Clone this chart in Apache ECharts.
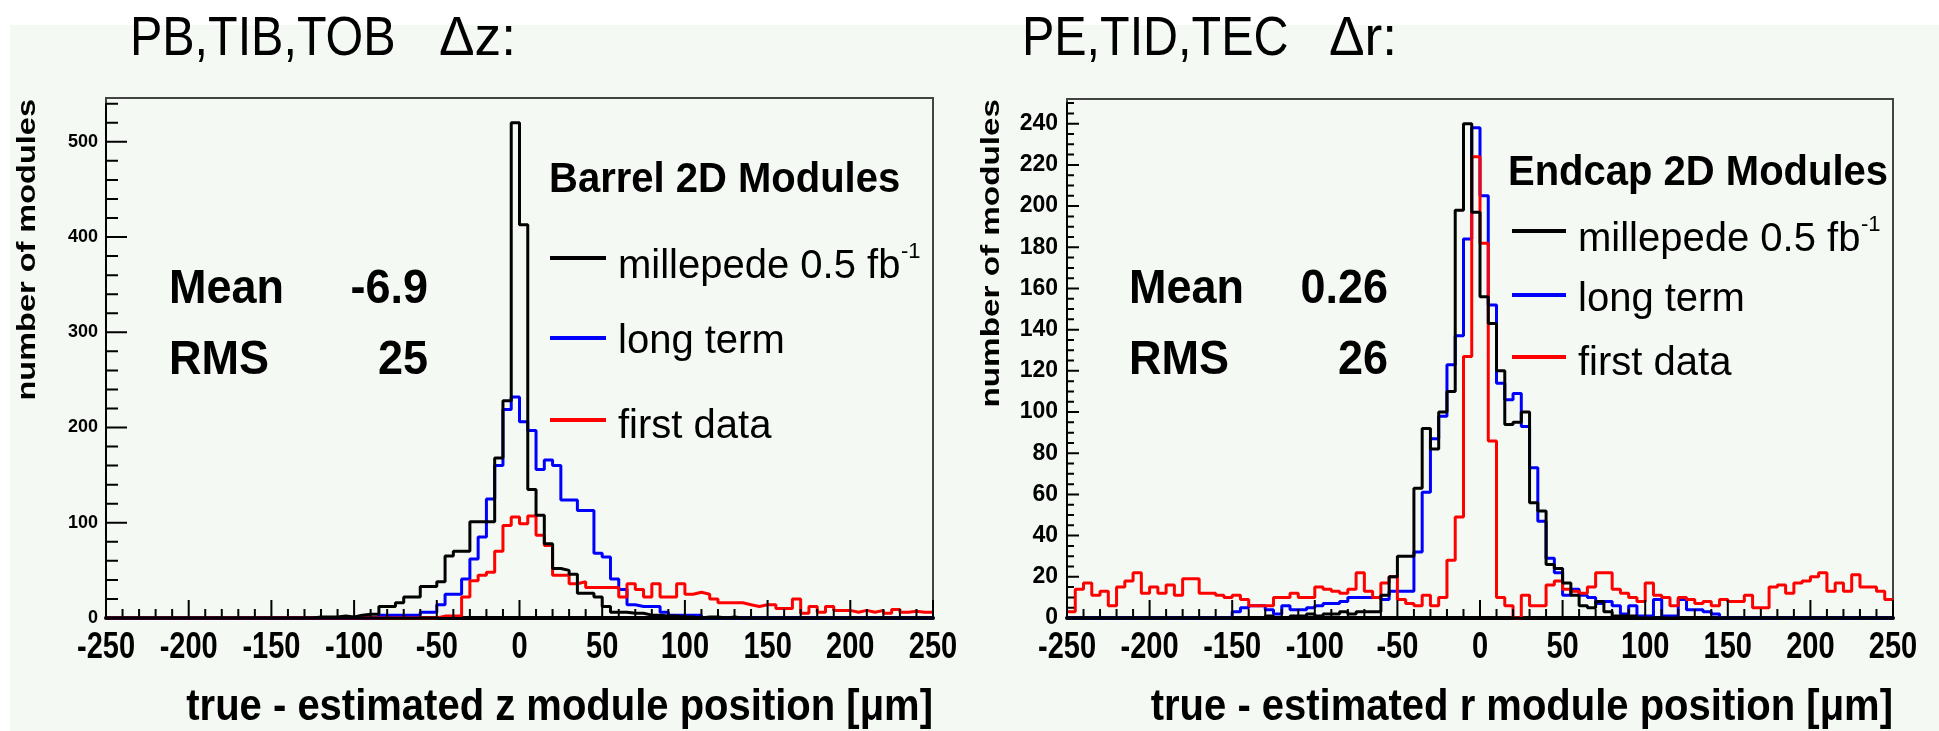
<!DOCTYPE html>
<html><head><meta charset="utf-8">
<script src="https://cdn.jsdelivr.net/npm/echarts@6/dist/echarts.min.js"></script>
<style>html,body{margin:0;padding:0;background:#fff;overflow:hidden}#c{width:1939px;height:731px}#tmp{position:absolute;left:0;top:0;width:1939px;height:731px;visibility:hidden}</style>
</head><body><div id="c"></div><div id="tmp"></div><script>
// ---- histogram binning (5 um bins from -250 to 250) ----
const binLow = -250, binWidth = 5;
const xTickLabels = [-250,-200,-150,-100,-50,0,50,100,150,200,250];

// ---- Barrel (left panel), Delta z ----
const barrelMillepede = [
 0,0,0,0,0,0,0,0,0,0, 0,0,0,0,0,0,0,0,0,0, 0,0,0,0,0,1,1,1,2,1,
 3,4,4,12,12,16,22,22,33,33, 38,65,70,70,101,101,101,168,228,520,
 413,135,108,78,52,50,46,26,26,22, 12,6,6,5,5,3,3,2,2,1,
 1,0,1,1,0,1,0,0,0,0, 0,0,0,0,0,0,0,0,0,0, 0,0,0,0,0,0,0,0,0,0];
const barrelLongTerm = [
 0,0,0,0,0,0,0,0,0,0, 0,0,0,0,0,0,0,0,0,0, 0,0,0,0,0,0,0,0,0,0,
 0,0,0,3,3,3,3,3,6,6, 14,25,25,41,62,85,125,160,219,232,
 206,197,156,166,160,124,124,113,113,68, 64,41,30,14,12,12,12,6,3,3,
 3,3,0,0,0,0,0,0,0,0, 0,0,0,0,0,0,0,0,0,0, 0,0,0,0,0,0,0,0,0,0];
const barrelFirstData = [
 0,0,0,0,0,0,0,0,0,0, 0,0,0,0,0,0,0,0,0,0, 0,0,0,0,0,0,0,0,0,0,
 0,0,0,0,0,0,0,0,0,0, 2,2,2,22,39,45,48,70,97,106,
 99,107,87,76,45,45,36,38,32,32, 32,32,22,36,30,22,36,22,22,36,
 25,27,25,20,16,16,16,14,12,14, 14,10,10,20,5,12,6,12,8,8, 6,8,6,8,5,9,6,7,6,6];

// ---- Endcap (right panel), Delta r ----
const endcapMillepede = [
 0,0,0,0,0,0,0,0,0,0, 0,0,0,0,0,0,0,0,0,0, 0,0,0,0,1,0,0,1,1,2,
 1,2,2,3,2,3,3,3,11,20, 30,30,63,92,82,100,110,198,240,197,
 156,143,120,94,95,100,56,52,26,24, 17,11,6,5,8,3,1,1,1,0,
 0,0,0,0,0,0,0,0,0,0, 0,0,0,0,0,0,0,0,0,0, 0,0,0,0,0,0,0,0,0,0];
const endcapLongTerm = [
 0,0,0,0,0,0,0,0,0,0, 0,0,0,0,0,0,0,0,0,0, 3,5,6,6,4,2,6,4,4,5,
 6,7,7,8,10,10,10,10,9,13, 13,13,32,61,87,98,123,137,184,238,
 205,152,114,106,109,93,73,47,29,22, 11,14,11,10,7,8,6,2,6,1,
 1,9,1,1,9,4,4,3,2,0, 0,0,0,0,0,0,0,0,0,0, 0,0,0,0,0,0,0,0,0,0];
const endcapFirstData = [
 3,14,17,11,13,6,15,18,22,12, 15,12,16,11,19,19,12,12,11,10,
 11,9,6,6,6,10,10,12,10,10, 15,14,13,12,14,22,13,10,17,20,
 9,7,6,11,6,10,28,49,127,224, 182,86,10,6,0,11,6,6,16,18,
 14,13,12,15,22,22,14,12,10,8, 17,11,10,6,10,9,7,8,6,9,
 8,8,11,5,5,15,16,12,17,18, 20,22,13,17,13,21,15,15,13,9];

const seriesNames = ['millepede 0.5 fb', 'long term', 'first data'];
const seriesColors = ['#000000', '#0000ff', '#ff0000'];

const SANS = '"Liberation Sans", Arial, sans-serif';
const yMax = [546, 252];

function toSteps(vals){
  const pts = vals.map((v,i)=>[binLow + i*binWidth, v]);
  pts.push([binLow + vals.length*binWidth, vals[vals.length-1]]);
  return pts;
}
function hist(vals, idx, colorIdx, z){
  return { type:'line', name: seriesNames[colorIdx], xAxisIndex: idx, yAxisIndex: idx, step:'end', symbol:'none',
    data: toSteps(vals), lineStyle:{color: seriesColors[colorIdx], width:3}, itemStyle:{color: seriesColors[colorIdx]},
    z: z, silent:true, animation:false, clip:true };
}
function xAxisCfg(i){
  return { gridIndex:i, type:'value', position:'bottom', min:-250, max:250, interval:50,
    axisLine:{show:true, lineStyle:{color:'#000', width:4}},
    axisTick:{show:false}, minorTick:{show:false},
    splitLine:{show:false}, minorSplitLine:{show:false},
    axisLabel:{show:false} };
}
function yAxisCfg(i, max, interval, fontSize, margin){
  return { gridIndex:i, type:'value', position:'left', min:0, max:max, interval:interval,
    axisLine:{show:true, onZero:false, lineStyle:{color:'#444', width:2}},
    axisTick:{show:false}, minorTick:{show:false},
    splitLine:{show:false}, minorSplitLine:{show:false},
    axisLabel:{fontFamily: SANS, fontWeight:'bold', fontSize: fontSize, color:'#000', margin: margin, showMaxLabel:false} };
}
function range(a, b, step){ const r = []; for (let v = a; v <= b + 1e-9; v += step) r.push(v); return r; }

function txt(x, y, text, font, opts){
  opts = opts || {};
  return { type:'text', x:x, y:y, rotation: opts.rotation || 0, scaleX: opts.scaleX || 1, scaleY: opts.scaleY || 1,
    z: 100, silent:true,
    style:{ text:text, font:font, fill: opts.fill || '#000', textAlign: opts.align || 'left', textVerticalAlign: opts.valign || 'middle' } };
}
function lineEl(x1, x2, y, color){
  return { type:'line', z:100, silent:true, shape:{x1:x1, y1:y, x2:x2, y2:y}, style:{stroke:color, lineWidth:4} };
}

const graphics = [
  { type:'rect', z:-100, silent:true, shape:{x:10, y:25, width:1929, height:706}, style:{fill:'#f4f9f4'} },
  // titles
  txt(130, 40, 'PB,TIB,TOB', '56px ' + SANS, {scaleX:0.865}),
  txt(439, 40, '\u0394z:', '56px ' + SANS, {scaleX:0.95}),
  txt(1022, 40, 'PE,TID,TEC', '56px ' + SANS, {scaleX:0.865}),
  txt(1329, 40, '\u0394r:', '56px ' + SANS, {scaleX:0.95}),
  // y axis names
  txt(28, 99, 'number of modules', 'bold 25px ' + SANS, {rotation: Math.PI/2, align:'right', scaleX:1.3}),
  txt(992, 99, 'number of modules', 'bold 25px ' + SANS, {rotation: Math.PI/2, align:'right', scaleX:1.33}),
  // x axis names
  txt(933, 708, 'true - estimated z module position [\u03bcm]', 'bold 40px ' + SANS, {align:'right', scaleY:1.1}),
  txt(1893, 708, 'true - estimated r module position [\u03bcm]', 'bold 40px ' + SANS, {align:'right', scaleY:1.1}),
  // left panel annotations
  txt(549, 180, 'Barrel 2D Modules', 'bold 40px ' + SANS, {scaleY:1.06}),
  txt(169, 290, 'Mean', 'bold 45px ' + SANS, {scaleY:1.08}),
  txt(428, 290, '-6.9', 'bold 45px ' + SANS, {align:'right', scaleY:1.08}),
  txt(169, 361, 'RMS', 'bold 45px ' + SANS, {scaleY:1.08}),
  txt(428, 361, '25', 'bold 45px ' + SANS, {align:'right', scaleY:1.08}),
  lineEl(550, 606, 258, seriesColors[0]),
  lineEl(550, 606, 338, seriesColors[1]),
  lineEl(550, 606, 420, seriesColors[2]),
  txt(618, 267, seriesNames[0], '40px ' + SANS),
  txt(901, 252, '-1', '22px ' + SANS),
  txt(618, 342, seriesNames[1], '40px ' + SANS),
  txt(618, 427, seriesNames[2], '40px ' + SANS),
  // right panel annotations
  txt(1508, 173, 'Endcap 2D Modules', 'bold 40px ' + SANS, {scaleY:1.06}),
  txt(1129, 290, 'Mean', 'bold 45px ' + SANS, {scaleY:1.08}),
  txt(1388, 290, '0.26', 'bold 45px ' + SANS, {align:'right', scaleY:1.08}),
  txt(1129, 361, 'RMS', 'bold 45px ' + SANS, {scaleY:1.08}),
  txt(1388, 361, '26', 'bold 45px ' + SANS, {align:'right', scaleY:1.08}),
  lineEl(1512, 1566, 231, seriesColors[0]),
  lineEl(1512, 1566, 295, seriesColors[1]),
  lineEl(1512, 1566, 357, seriesColors[2]),
  txt(1578, 240, seriesNames[0], '40px ' + SANS),
  txt(1861, 225, '-1', '22px ' + SANS),
  txt(1578, 300, seriesNames[1], '40px ' + SANS),
  txt(1578, 364, seriesNames[2], '40px ' + SANS)
];

const baseOption = {
  backgroundColor:'#ffffff',
  animation:false,
  grid:[
    {left:106, top:98, width:827, height:520, show:true, borderColor:'#444', borderWidth:2, backgroundColor:'transparent'},
    {left:1067, top:99, width:826, height:519, show:true, borderColor:'#444', borderWidth:2, backgroundColor:'transparent'}
  ],
  xAxis:[ xAxisCfg(0), xAxisCfg(1) ],
  yAxis:[ yAxisCfg(0, yMax[0], 100, 18, 8), yAxisCfg(1, yMax[1], 20, 23, 9) ]
};

// measure the axes' scales on a hidden helper chart
const helper = echarts.init(document.getElementById('tmp'));
helper.setOption(baseOption);
const extra = [];
const tickSeries = [];
const yTickCfg = [ {minor:20, major:100, majorLen:21, minorLen:12}, {minor:5, major:20, majorLen:12, minorLen:7} ];
[0,1].forEach(i => {
  const y0 = Number(helper.convertToPixel({yAxisIndex:i}, 0));
  const yT = Number(helper.convertToPixel({yAxisIndex:i}, yMax[i]));
  const xa = Number(helper.convertToPixel({xAxisIndex:i}, -250));
  const xb = Number(helper.convertToPixel({xAxisIndex:i}, 250));
  const pxPerX = (xb - xa) / 500, pxPerY = (y0 - yT) / yMax[i];
  const c = yTickCfg[i];
  // comb polyline along the bottom axis: up and back down at every tick
  const xComb = [];
  range(-250, 250, 10).forEach(v => {
    const L = (Math.abs(v % 50) < 1e-6 ? 18 : 9) / pxPerY;
    xComb.push([v, 0], [v, L], [v, 0]);
  });
  // comb polyline along the left axis
  const yComb = [];
  range(0, yMax[i], c.minor).forEach(v => {
    const L = (Math.abs(v % c.major) < 1e-6 ? c.majorLen : c.minorLen) / pxPerX;
    yComb.push([-250, v], [-250 + L, v], [-250, v]);
  });
  [xComb, yComb].forEach(comb => tickSeries.push({
    type:'line', xAxisIndex:i, yAxisIndex:i, symbol:'none', silent:true, animation:false, z:6, clip:false,
    lineStyle:{color:'#000', width:2}, data: comb }));
  xTickLabels.forEach(v => {
    const px = Number(helper.convertToPixel({xAxisIndex:i}, v));
    extra.push(txt(px, y0 + 30, String(v), 'bold 29px ' + SANS, {align:'center', scaleY:1.28}));
  });
});
helper.dispose();

const chart = echarts.init(document.getElementById('c'), null, {renderer:'canvas'});
chart.setOption(Object.assign({}, baseOption, {
  series: tickSeries.concat([
    hist(barrelLongTerm, 0, 1, 2), hist(barrelFirstData, 0, 2, 3), hist(barrelMillepede, 0, 0, 4),
    hist(endcapLongTerm, 1, 1, 2), hist(endcapFirstData, 1, 2, 3), hist(endcapMillepede, 1, 0, 4)
  ]),
  graphic: graphics.concat(extra)
}));
</script></body></html>
